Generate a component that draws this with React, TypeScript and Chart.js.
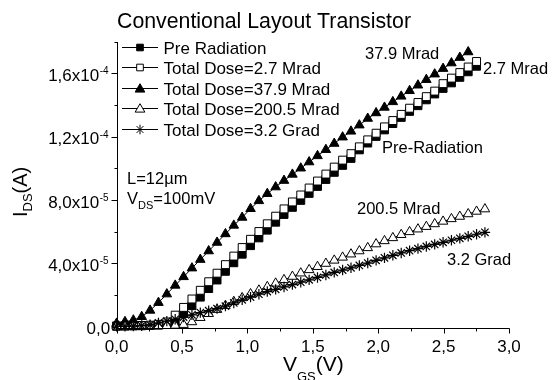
import React, { useEffect, useRef } from 'react';
import { Chart, registerables } from 'chart.js';

Chart.register(...registerables);

// Gate voltage sweep (V)
const VGS = [
  0.0, 0.064, 0.128, 0.192, 0.256, 0.32, 0.384, 0.448, 0.512, 0.576,
  0.64, 0.704, 0.768, 0.832, 0.896, 0.96, 1.024, 1.088, 1.152, 1.216,
  1.28, 1.344, 1.408, 1.472, 1.536, 1.6, 1.664, 1.728, 1.792, 1.856,
  1.92, 1.984, 2.048, 2.112, 2.176, 2.24, 2.304, 2.368, 2.432, 2.496,
  2.56, 2.624, 2.688, 2.752, 2.816,
];

// Drain current, in µA
const PRE_RAD = [
  0.3, 0.4, 0.5, 0.6, 0.8, 1.0, 1.5, 3.5, 8.3, 13.3,
  18.7, 24.1, 29.5, 35.0, 40.4, 45.8, 51.2, 56.1, 61.0, 66.0,
  70.9, 75.4, 79.8, 84.2, 88.6, 93.0, 97.5, 101.9, 106.3, 111.7,
  116.0, 120.2, 124.3, 128.3, 132.2, 136.0, 139.6, 143.3, 147.0, 150.5,
  154.0, 157.5, 161.0, 164.5,
];
const DOSE_2_7M = [
  0.5, 0.6, 0.7, 0.8, 1.0, 1.5, 3.0, 7.3, 12.2, 17.5,
  23.0, 28.4, 33.8, 39.2, 44.6, 50.0, 55.2, 60.1, 65.0, 69.8,
  74.4, 78.8, 83.2, 87.6, 92.0, 96.4, 100.8, 105.2, 109.3, 113.6,
  118.0, 122.2, 126.2, 130.2, 134.1, 138.0, 141.6, 145.3, 148.8, 153.5,
  157.0, 160.5, 164.0, 167.5,
];
const DOSE_37_9M = [
  2.1, 3.1, 4.1, 6.3, 10.3, 15.2, 20.6, 26.1, 31.5, 37.0,
  42.4, 47.8, 53.2, 58.6, 64.0, 69.0, 74.5, 79.5, 84.0, 88.2,
  92.3, 96.2, 100.1, 104.0, 107.9, 111.8, 115.7, 119.7, 123.4, 127.3,
  131.5, 135.0, 138.5, 142.0, 145.5, 149.0, 152.5, 156.0, 159.5, 163.0,
  166.5, 170.0, 173.5,
];
const DOSE_200_5M = [
  0.3, 0.3, 0.3, 0.4, 0.4, 0.5, 0.6, 0.8, 1.3, 3.0,
  5.7, 8.2, 10.8, 13.3, 15.8, 18.2, 20.7, 23.0, 25.2, 27.4,
  29.6, 31.7, 33.8, 35.9, 37.9, 39.9, 41.9, 43.8, 45.8, 47.8,
  49.8, 52.2, 54.2, 56.1, 58.1, 59.9, 61.6, 63.2, 64.9, 66.5,
  68.1, 69.6, 71.2, 72.8, 74.3,
];
const DOSE_3_2G = [
  0.3, 0.3, 0.4, 0.6, 1.2, 2.4, 3.5, 4.7, 6.1, 7.5,
  8.9, 10.1, 11.4, 13.0, 15.0, 17.0, 18.7, 20.5, 22.2, 23.6,
  25.1, 26.6, 28.1, 29.6, 31.1, 32.7, 34.3, 35.8, 37.2, 38.7,
  40.2, 41.9, 43.5, 45.1, 46.6, 48.0, 49.3, 50.7, 52.0, 53.3,
  54.6, 55.8, 57.1, 58.4, 59.6,
];

const SERIES_NAMES = [
  'Pre Radiation',
  'Total Dose=2.7 Mrad',
  'Total Dose=37.9 Mrad',
  'Total Dose=200.5 Mrad',
  'Total Dose=3.2 Grad',
];

const X_TICKS = [0, 0.5, 1.0, 1.5, 2.0, 2.5, 3.0];
const X_TICK_LABELS = ['0,0', '0,5', '1,0', '1,5', '2,0', '2,5', '3,0'];
const X_MINOR = [0.25, 0.75, 1.25, 1.75, 2.25, 2.75];

const Y_TICKS = [0, 4e-5, 8e-5, 1.2e-4, 1.6e-4];
const Y_TICK_MANT = ['0,0', '4,0x10', '8,0x10', '1,2x10', '1,6x10'];
const Y_TICK_EXP = ['', '-5', '-5', '-4', '-4'];
const Y_MINOR = [2e-5, 6e-5, 1e-4, 1.4e-4, 1.8e-4];

const FONT = '"Liberation Sans", Arial, Helvetica, sans-serif';

type Marker = { style: 'rect' | 'triangle' | 'star'; filled: boolean };
const MARKERS: Marker[] = [
  { style: 'rect', filled: true },
  { style: 'rect', filled: false },
  { style: 'triangle', filled: true },
  { style: 'triangle', filled: false },
  { style: 'star', filled: false },
];

function drawShape(ctx: CanvasRenderingContext2D, m: Marker, x: number, y: number, r: number) {
  ctx.beginPath();
  if (m.style === 'rect') {
    const s = r * Math.SQRT1_2;
    ctx.rect(x - s, y - s, 2 * s, 2 * s);
  } else if (m.style === 'triangle') {
    let rad = 0;
    ctx.moveTo(x + Math.sin(rad) * r, y - Math.cos(rad) * r);
    rad += (2 * Math.PI) / 3;
    ctx.lineTo(x + Math.sin(rad) * r, y - Math.cos(rad) * r);
    rad += (2 * Math.PI) / 3;
    ctx.lineTo(x + Math.sin(rad) * r, y - Math.cos(rad) * r);
    ctx.closePath();
  } else {
    const d = r * Math.SQRT1_2;
    ctx.moveTo(x, y - r);
    ctx.lineTo(x, y + r);
    ctx.moveTo(x - d, y - d);
    ctx.lineTo(x + d, y + d);
    ctx.moveTo(x - d, y + d);
    ctx.lineTo(x + d, y - d);
    ctx.stroke();
    return;
  }
  ctx.fillStyle = m.filled ? '#000' : '#fff';
  ctx.fill();
  ctx.stroke();
}

const decorPlugin = {
  id: 'decor',
  afterDraw(chart: any) {
    const ctx: CanvasRenderingContext2D = chart.ctx;
    const ca = chart.chartArea;
    const xs = chart.scales.x;
    const ys = chart.scales.y;
    const L = Math.round(ca.left) + 0.5;
    const B = Math.round(ca.bottom) + 0.5;
    ctx.save();
    ctx.strokeStyle = '#000';
    ctx.fillStyle = '#000';
    ctx.lineWidth = 1;

    // axis lines
    ctx.beginPath();
    ctx.moveTo(L, Math.round(ca.top));
    ctx.lineTo(L, B);
    ctx.lineTo(Math.round(ca.right) + 0.5, B);
    ctx.stroke();

    // y ticks
    ctx.beginPath();
    Y_TICKS.forEach((v) => {
      const y = Math.round(ys.getPixelForValue(v)) + 0.5;
      ctx.moveTo(L - 6, y);
      ctx.lineTo(L, y);
    });
    Y_MINOR.forEach((v) => {
      const y = Math.round(ys.getPixelForValue(v)) + 0.5;
      ctx.moveTo(L - 3, y);
      ctx.lineTo(L, y);
    });
    // x ticks
    X_TICKS.forEach((v) => {
      const x = Math.round(xs.getPixelForValue(v)) + 0.5;
      ctx.moveTo(x, B);
      ctx.lineTo(x, B + 5);
    });
    X_MINOR.forEach((v) => {
      const x = Math.round(xs.getPixelForValue(v)) + 0.5;
      ctx.moveTo(x, B);
      ctx.lineTo(x, B + 3);
    });
    ctx.stroke();

    // y tick labels
    ctx.textBaseline = 'alphabetic';
    Y_TICKS.forEach((v, i) => {
      const y = ys.getPixelForValue(v);
      const exp = Y_TICK_EXP[i];
      const right = exp ? ca.left - 8 : ca.left - 6.5;
      ctx.font = `10px ${FONT}`;
      const ew = exp ? ctx.measureText(exp).width : 0;
      if (exp) {
        ctx.textAlign = 'right';
        ctx.fillText(exp, right, y + 1);
      }
      ctx.font = `17px ${FONT}`;
      ctx.textAlign = 'right';
      ctx.fillText(Y_TICK_MANT[i], right - ew - (exp ? 0.5 : 0), y + 7.5);
    });

    // x tick labels
    ctx.font = `17px ${FONT}`;
    ctx.textAlign = 'center';
    X_TICKS.forEach((v, i) => {
      ctx.fillText(X_TICK_LABELS[i], xs.getPixelForValue(v), 352);
    });

    // title
    ctx.font = `21.3px ${FONT}`;
    ctx.textAlign = 'left';
    ctx.fillText('Conventional Layout Transistor', 117, 28);

    // x axis title V_GS(V)
    ctx.font = `21px ${FONT}`;
    ctx.textAlign = 'left';
    let xx = 283;
    ctx.fillText('V', xx, 371);
    xx += ctx.measureText('V').width;
    ctx.font = `13px ${FONT}`;
    ctx.fillText('GS', xx, 381);
    xx += ctx.measureText('GS').width;
    ctx.font = `21px ${FONT}`;
    ctx.fillText('(V)', xx, 371);

    // y axis title I_DS(A), rotated
    ctx.save();
    ctx.translate(27, 217);
    ctx.rotate(-Math.PI / 2);
    ctx.textAlign = 'left';
    let yy = 0;
    ctx.font = `20px ${FONT}`;
    ctx.fillText('I', yy, 0);
    yy += ctx.measureText('I').width;
    ctx.font = `13px ${FONT}`;
    ctx.fillText('DS', yy, 5);
    yy += ctx.measureText('DS').width;
    ctx.font = `20px ${FONT}`;
    ctx.fillText('(A)', yy, 0);
    ctx.restore();

    // legend
    const rowY0 = 46.5;
    const rowStep = 20.5;
    SERIES_NAMES.forEach((name, i) => {
      const ry = Math.round(rowY0 + i * rowStep) + 0.5;
      ctx.beginPath();
      ctx.moveTo(122, ry);
      ctx.lineTo(158, ry);
      ctx.stroke();
      const m = MARKERS[i];
      const r = m.style === 'rect' ? 4.7 : m.style === 'triangle' ? 5.6 : 4.8;
      drawShape(ctx, m, 140, m.style === 'triangle' ? ry + 0.8 : ry, r);
      ctx.fillStyle = '#000';
      ctx.font = `17px ${FONT}`;
      ctx.textAlign = 'left';
      ctx.fillText(name, 163.5, ry + 6);
    });

    // annotations
    ctx.font = `16.5px ${FONT}`;
    ctx.textAlign = 'left';
    ctx.fillText('37.9 Mrad', 365, 59);
    ctx.fillText('2.7 Mrad', 483, 74);
    ctx.fillText('Pre-Radiation', 382, 153);
    ctx.fillText('200.5 Mrad', 357, 214);
    ctx.fillText('3.2 Grad', 447, 265);
    ctx.fillText('L=12\u00b5m', 127, 184);
    let ax = 127;
    ctx.fillText('V', ax, 204);
    ax += ctx.measureText('V').width;
    ctx.font = `11px ${FONT}`;
    ctx.fillText('DS', ax, 209);
    ax += ctx.measureText('DS').width;
    ctx.font = `16.5px ${FONT}`;
    ctx.fillText('=100mV', ax, 204);

    ctx.restore();
  },
};

function makeData(values: number[]) {
  return values.map((v, i) => ({ x: VGS[i], y: v * 1e-6 }));
}

export default function App() {
  const canvasRef = useRef<HTMLCanvasElement | null>(null);

  useEffect(() => {
    const canvas = canvasRef.current;
    if (!canvas) return;
    const series = [PRE_RAD, DOSE_2_7M, DOSE_37_9M, DOSE_200_5M, DOSE_3_2G];
    const datasets = series.map((vals, i) => {
      const m = MARKERS[i];
      const radius = m.style === 'rect' ? 5.6 : m.style === 'triangle' ? 5.5 : 5.2;
      return {
        label: SERIES_NAMES[i],
        data: makeData(vals),
        showLine: true,
        borderColor: '#000',
        borderWidth: 1,
        pointStyle: m.style,
        pointRadius: radius,
        pointBorderWidth: m.style === 'star' ? 1.2 : 1,
        pointBorderColor: '#000',
        pointBackgroundColor: m.filled ? '#000' : '#fff',
        clip: false as any,
        order: 5 - i,
      };
    });
    const chart = new Chart(canvas, {
      type: 'scatter',
      data: { datasets },
      options: {
        animation: false,
        responsive: false,
        maintainAspectRatio: false,
        events: [],
        layout: { padding: { left: 116.6, right: 43, top: 41.7, bottom: 51.7 } },
        plugins: {
          legend: { display: false },
          tooltip: { enabled: false },
          title: { display: false },
        },
        scales: {
          x: { type: 'linear', min: 0, max: 3, display: false },
          y: { type: 'linear', min: -1e-6, max: 1.8e-4, display: false },
        },
      },
      plugins: [decorPlugin],
    });
    return () => chart.destroy();
  }, []);

  return (
    <div style={{ position: 'absolute', left: 0, top: 0, width: 552, height: 380, background: '#fff' }}>
      <canvas ref={canvasRef} width={552} height={380} />
    </div>
  );
}
